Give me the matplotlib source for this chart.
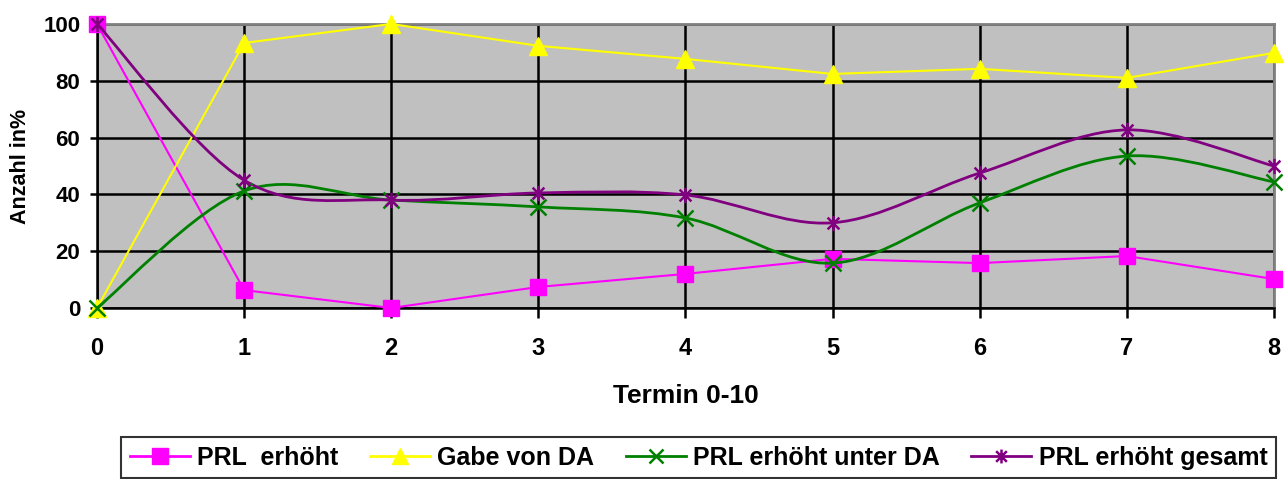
import matplotlib.pyplot as plt
import numpy as np
from matplotlib.path import Path
from matplotlib.patches import PathPatch
from matplotlib.lines import Line2D

# Data ---------------------------------------------------------------
termin = [0, 1, 2, 3, 4, 5, 6, 7, 8]
prl_erhoeht = [100, 6.3, 0, 7.4, 12, 17.3, 15.8, 18.3, 10.2]
gabe_da = [0, 93.3, 100, 92.3, 87.7, 82.4, 84.2, 81, 89.8]
prl_unter_da = [0, 41.2, 38, 35.6, 31.7, 15.8, 37, 53.5, 44.4]
prl_gesamt = [100, 45, 38, 40.5, 39.8, 30, 47.5, 62.7, 50]
y_ticks = [0, 20, 40, 60, 80, 100]

plt.rcParams['font.family'] = ['Liberation Sans', 'DejaVu Sans']
plt.rcParams['font.weight'] = 'bold'

# Excel-like star marker (x with vertical bar)
star = Path([(-1, -1), (1, 1), (-1, 1), (1, -1), (0, -1.3), (0, 1.3)],
            [Path.MOVETO, Path.LINETO, Path.MOVETO, Path.LINETO, Path.MOVETO, Path.LINETO])


def smooth_path(x, y):
    # Catmull-Rom style bezier like Excel "smoothed line"
    x = np.asarray(x, float)
    y = np.asarray(y, float)
    pts = np.column_stack([x, y])
    n = len(pts)
    verts = [pts[0]]
    codes = [Path.MOVETO]
    for i in range(n - 1):
        p0 = pts[i - 1] if i > 0 else pts[i]
        p1 = pts[i]
        p2 = pts[i + 1]
        p3 = pts[i + 2] if i + 2 < n else pts[i + 1]
        c1 = p1 + (p2 - p0) / 6
        c2 = p2 - (p3 - p1) / 6
        verts += [c1, c2, p2]
        codes += [Path.CURVE4] * 3
    return Path(verts, codes)


fig = plt.figure(figsize=(12.88, 4.79), dpi=100)
ax = fig.add_axes([0.0753, 0.357, 0.9137, 0.593])
ax.set_facecolor('#C0C0C0')

ax.set_xlim(0, 8)
ax.set_ylim(0, 100)
ax.set_xticks(termin)
ax.set_yticks(y_ticks)
ax.grid(True, color='black', linewidth=1.8)
ax.set_axisbelow(True)

ax.tick_params(axis='x', direction='out', length=7, width=1.8, labelsize=17, pad=14)
ax.tick_params(axis='y', direction='out', length=5, width=1.8, labelsize=16, pad=7)
for lab in ax.get_xticklabels() + ax.get_yticklabels():
    lab.set_fontweight('bold')

for side in ['top', 'right']:
    ax.spines[side].set_color('#808080')
    ax.spines[side].set_linewidth(2)
ax.spines['left'].set_linewidth(1.8)
ax.spines['bottom'].set_linewidth(1.8)

# straight series
ax.plot(termin, prl_erhoeht, color='#FF00FF', linewidth=1.5, marker='s',
        markersize=11, clip_on=False, zorder=4)
ax.plot(termin, gabe_da, color='#FFFF00', linewidth=1.5, marker='^',
        markersize=13, clip_on=False, zorder=4)

# smoothed series
for ys, col, mk, ms in [(prl_unter_da, '#008000', 'x', 12), (prl_gesamt, '#800080', star, 11)]:
    patch = PathPatch(smooth_path(termin, ys), facecolor='none', edgecolor=col,
                      linewidth=2, zorder=4, clip_on=False)
    ax.add_patch(patch)
    ax.plot(termin, ys, linestyle='none', marker=mk, markersize=ms, color=col,
            markeredgewidth=1.8, clip_on=False, zorder=5)

ax.set_xlabel('Termin 0-10', fontsize=19, fontweight='bold', labelpad=17)
ax.set_ylabel('Anzahl in%', fontsize=15.5, fontweight='bold', labelpad=9)

handles = [
    Line2D([], [], color='#FF00FF', linewidth=2, marker='s', markersize=11),
    Line2D([], [], color='#FFFF00', linewidth=2, marker='^', markersize=12),
    Line2D([], [], color='#008000', linewidth=2, marker='x', markersize=10, markeredgewidth=1.8),
    Line2D([], [], color='#800080', linewidth=2, marker=star, markersize=10, markeredgewidth=1.8),
]
labels = ['PRL  erhöht', 'Gabe von DA', 'PRL erhöht unter DA', 'PRL erhöht gesamt']
leg = fig.legend(handles, labels, loc='upper left', bbox_to_anchor=(0.094, 0.088),
                 borderaxespad=0, ncol=4, frameon=True, fancybox=False, edgecolor='black',
                 prop={'size': 18, 'weight': 'bold'}, handlelength=2.4,
                 handletextpad=0.3, columnspacing=1.25, borderpad=0.35)
leg.get_frame().set_linewidth(1.5)

fig.savefig('out.png', dpi=100)
